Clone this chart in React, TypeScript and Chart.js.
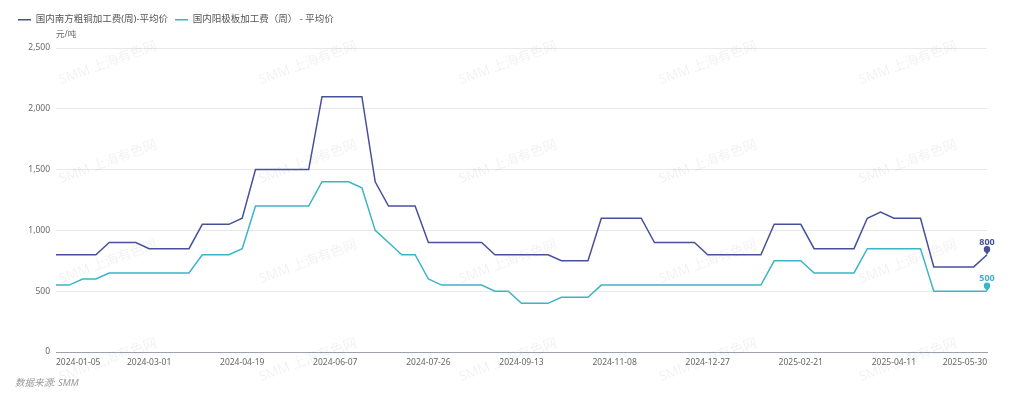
import React, { useEffect, useRef } from "react";
import { Chart, registerables } from "chart.js";

Chart.register(...registerables);

const dates = [
  "2024-01-05", "2024-01-12", "2024-01-19", "2024-01-26", "2024-02-02", "2024-02-08", "2024-02-23",
  "2024-03-01", "2024-03-08", "2024-03-15", "2024-03-22", "2024-03-29", "2024-04-03", "2024-04-12",
  "2024-04-19", "2024-04-26", "2024-04-30", "2024-05-10", "2024-05-17", "2024-05-24", "2024-05-31",
  "2024-06-07", "2024-06-14", "2024-06-21", "2024-06-28", "2024-07-05", "2024-07-12", "2024-07-19",
  "2024-07-26", "2024-08-02", "2024-08-09", "2024-08-16", "2024-08-23", "2024-08-30", "2024-09-06",
  "2024-09-13", "2024-09-20", "2024-09-27", "2024-10-11", "2024-10-18", "2024-10-25", "2024-11-01",
  "2024-11-08", "2024-11-15", "2024-11-22", "2024-11-29", "2024-12-06", "2024-12-13", "2024-12-20",
  "2024-12-27", "2025-01-03", "2025-01-10", "2025-01-17", "2025-01-24", "2025-02-07", "2025-02-14",
  "2025-02-21", "2025-02-28", "2025-03-07", "2025-03-14", "2025-03-21", "2025-03-28", "2025-04-03",
  "2025-04-11", "2025-04-18", "2025-04-25", "2025-04-30", "2025-05-09", "2025-05-16", "2025-05-23",
  "2025-05-30",
];

const shownTicks = [
  "2024-01-05", "2024-03-01", "2024-04-19", "2024-06-07", "2024-07-26", "2024-09-13",
  "2024-11-08", "2024-12-27", "2025-02-21", "2025-04-11", "2025-05-30",
];

const blisterFee = [
  800, 800, 800, 800, 900, 900, 900,
  850, 850, 850, 850, 1050, 1050, 1050,
  1100, 1500, 1500, 1500, 1500, 1500, 2100,
  2100, 2100, 2100, 1400, 1200, 1200, 1200,
  900, 900, 900, 900, 900, 800, 800,
  800, 800, 800, 750, 750, 750, 1100,
  1100, 1100, 1100, 900, 900, 900, 900,
  800, 800, 800, 800, 800, 1050, 1050,
  1050, 850, 850, 850, 850, 1100, 1150,
  1100, 1100, 1100, 700, 700, 700, 700,
  800,
];

const anodeFee = [
  550, 550, 600, 600, 650, 650, 650,
  650, 650, 650, 650, 800, 800, 800,
  850, 1200, 1200, 1200, 1200, 1200, 1400,
  1400, 1400, 1350, 1000, 900, 800, 800,
  600, 550, 550, 550, 550, 500, 500,
  400, 400, 400, 450, 450, 450, 550,
  550, 550, 550, 550, 550, 550, 550,
  550, 550, 550, 550, 550, 750, 750,
  750, 650, 650, 650, 650, 850, 850,
  850, 850, 850, 500, 500, 500, 500,
  500,
];

const seriesNames = ["国内南方粗铜加工费(周)-平均价", "国内阳极板加工费（周） - 平均价"];
const seriesColors = ["#47519b", "#3cb4c8"];
const unitLabel = "元/吨";
const sourceLabel = "数据来源: SMM";
const watermarkText = "SMM 上海有色网";

const FONT = "'Noto Sans', 'Noto Sans CJK SC', sans-serif";

const extrasPlugin = {
  id: "extras",
  beforeLayout(chart: any) {
    const lg = chart.legend;
    if (lg && !lg.__patched) {
      const orig = lg.fit.bind(lg);
      lg.fit = function () {
        orig();
        this.height = 40;
      };
      lg.__patched = true;
    }
  },
  beforeDatasetsDraw(chart: any) {
    const ctx = chart.ctx;
    ctx.save();
    ctx.fillStyle = "rgba(0,0,0,0.055)";
    ctx.font = `13.5px ${FONT}`;
    ctx.textAlign = "center";
    ctx.textBaseline = "middle";
    const xs = [100, 300, 500, 700, 900];
    const ys = [55, 154, 254, 352];
    for (const x of xs) {
      for (const y of ys) {
        ctx.save();
        ctx.translate(x, y);
        ctx.rotate(-20 * Math.PI / 180);
        ctx.fillText(watermarkText, 0, 0);
        ctx.restore();
      }
    }
    ctx.restore();
  },
  afterDraw(chart: any) {
    const ctx = chart.ctx;
    ctx.save();
    ctx.fillStyle = "#666";
    ctx.font = `8.5px ${FONT}`;
    ctx.textAlign = "left";
    ctx.textBaseline = "middle";
    ctx.fillText(unitLabel, chart.chartArea.left, 27);
    ctx.fillStyle = "#999";
    ctx.font = `italic 9.5px ${FONT}`;
    ctx.fillText(sourceLabel, 7, 375);
    chart.data.datasets.forEach((ds: any, i: number) => {
      const meta = chart.getDatasetMeta(i);
      const last = meta.data[meta.data.length - 1];
      if (!last) return;
      const x = last.x;
      const y = last.y;
      const r = 3.2;
      const cy = y - 5.5;
      ctx.fillStyle = ds.borderColor;
      ctx.beginPath();
      ctx.arc(x, cy, r, 0, Math.PI * 2);
      ctx.fill();
      ctx.beginPath();
      ctx.moveTo(x - r * 0.75, cy + r * 0.65);
      ctx.lineTo(x, y);
      ctx.lineTo(x + r * 0.75, cy + r * 0.65);
      ctx.closePath();
      ctx.fill();
      ctx.font = `bold 9px ${FONT}`;
      ctx.textAlign = "center";
      ctx.textBaseline = "middle";
      ctx.fillText(String(ds.data[ds.data.length - 1]), x, y - 12.5);
    });
    ctx.restore();
  },
};

export default function App() {
  const ref = useRef<HTMLCanvasElement | null>(null);
  useEffect(() => {
    if (!ref.current) return;
    const chart = new Chart(ref.current, {
      type: "line",
      data: {
        labels: dates,
        datasets: [
          {
            label: seriesNames[0],
            data: blisterFee,
            borderColor: seriesColors[0],
            backgroundColor: seriesColors[0],
            borderWidth: 1.5,
            pointRadius: 0,
            tension: 0,
          },
          {
            label: seriesNames[1],
            data: anodeFee,
            borderColor: seriesColors[1],
            backgroundColor: seriesColors[1],
            borderWidth: 1.5,
            pointRadius: 0,
            tension: 0,
          },
        ],
      },
      options: {
        animation: false,
        responsive: true,
        maintainAspectRatio: false,
        layout: { padding: { left: 3, right: 29, top: 0, bottom: 9 } },
        plugins: {
          tooltip: { enabled: false },
          legend: {
            position: "top",
            align: "start",
            labels: {
              usePointStyle: true,
              pointStyle: "line",
              pointStyleWidth: 13,
              padding: 7,
              color: "#555",
              font: { family: FONT, size: 9.5 },
            },
          },
        },
        scales: {
          x: {
            grid: { display: false, drawTicks: false },
            border: { display: true, color: "#9ea2b0", width: 1 },
            afterFit: (s: any) => {
              s.height = 30;
            },
            ticks: {
              autoSkip: false,
              maxRotation: 0,
              minRotation: 0,
              align: "inner",
              padding: 5,
              color: "#666",
              font: { family: FONT, size: 8.5 },
              callback: function (this: any, v: any, i: number) {
                const lab = dates[i];
                return shownTicks.includes(lab) ? lab : "";
              },
            },
          },
          y: {
            min: 0,
            max: 2500,
            afterFit: (s: any) => {
              s.width = 45;
            },
            grid: { color: "#e8e8e8", drawTicks: false },
            border: { display: false },
            ticks: {
              stepSize: 500,
              padding: 6,
              color: "#666",
              font: { family: FONT, size: 8.5 },
              callback: (v: any) => Number(v).toLocaleString("en-US"),
            },
          },
        },
      },
      plugins: [extrasPlugin],
    });
    return () => chart.destroy();
  }, []);
  return (
    <div style={{ position: "relative", width: "100%", height: 383 }}>
      <canvas ref={ref} />
    </div>
  );
}
